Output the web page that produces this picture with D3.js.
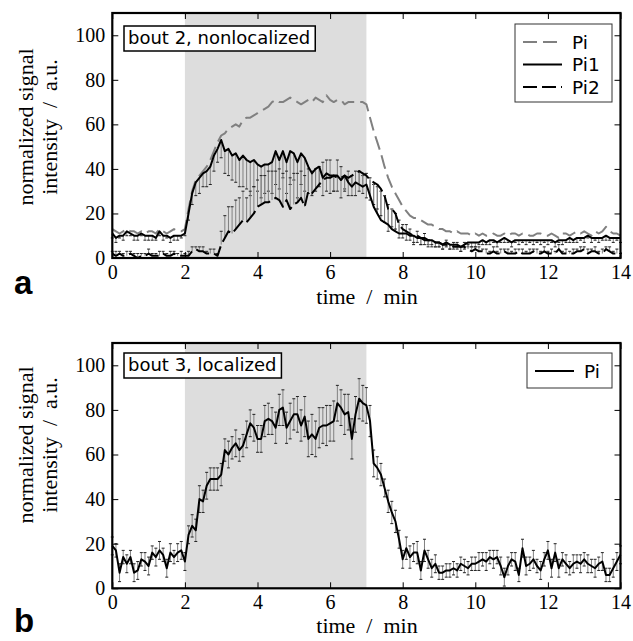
<!DOCTYPE html>
<html>
<head>
<meta charset="utf-8">
<script src="https://cdn.jsdelivr.net/npm/d3@7"></script>
<style>
  body { margin: 0; background: #fff; }
  svg { display: block; }
  .tick text { font-family: "Liberation Serif", serif; font-size: 20px; fill: #000; }
  .tick line { stroke: #000; stroke-width: 1; }
</style>
</head>
<body>
<div id="chart"></div>
<script>
// sampling: one value every 0.1 min, 0..14 min
var time = d3.range(141).map(function (i) { return i / 10; });
var xTicks = [0, 2, 4, 6, 8, 10, 12, 14];
var yTicks = [0, 20, 40, 60, 80, 100];
var stimulus = [2, 7];   // shaded interval, min

// panel a, bout 2, nonlocalized
var piA = [13,12,11,12,13,12,12,11,12,11, 12,12,11,13,12,11,12,13,12,12,
           13,22,30,35,37,39,41,44,48,52, 55,56,58,59,60,59,62,63,63,64,
           65,66,67,68,70,71,70,70,71,72, 71,70,69,70,71,70,72,71,70,73,
           71,70,71,71,69,70,70,70,70,70, 69,63,57,52,47,41,36,32,29,26,
           23,21,19,18,18,17,16,15,15,14, 13,13,12,12,11,12,11,11,11,10,
           11,10,11,10,10,11,10,10,11,10, 11,11,10,11,11,10,10,11,11,10,
           10,11,10,9,11,11,10,11,12,11, 12,11,10,12,11,12,14,12,11,11, 10];
var pi1A = [11,9,10,10,12,11,10,10,11,10, 10,10,9,12,10,10,9,10,10,10,
            11,20,29,34,36,38,39,41,46,49, 53,48,49,46,47,44,46,44,43,44,
            42,41,42,42,43,48,44,48,43,48, 47,43,47,45,41,38,40,41,36,38,
            37,37,37,35,37,34,32,34,33,32, 33,28,23,20,17,16,15,13,12,11,
            11,11,10,10,9,9,8,8,8,7, 7,6,7,6,6,6,5,6,7,7,
            7,7,8,7,8,8,7,8,9,8, 7,8,8,8,8,8,8,8,8,8,
            8,8,7,8,8,8,9,8,9,9, 9,10,9,9,9,9,10,9,9,9, 9];
var pi1AErr = [2,2,1,2,2,1,2,2,1,2, 2,2,1,2,2,1,2,2,2,1,
               1,3,5,6,7,6,7,8,7,6, 8,10,12,11,13,12,14,13,15,12,
               12,14,13,12,14,15,13,12,14,15, 12,16,14,15,12,10,10,9,8,8,
               8,7,7,6,6,5,5,5,6,5, 5,8,10,12,13,12,9,9,8,6,
               4,4,3,4,3,3,3,2,3,2, 2,2,2,2,2,2,2,2,2,2,
               2,1,2,1,2,1,2,1,2,1, 2,1,2,1,2,1,2,1,2,1,
               2,1,2,1,2,1,2,1,2,1, 2,1,2,1,2,1,2,1,2,1, 2];
var pi2A = [2,1,2,1,1,2,1,0,1,1, 2,1,1,1,2,1,1,2,1,1,
            1,1,3,4,3,3,2,2,2,1, 6,9,12,11,13,15,17,16,18,20,
            23,24,25,25,26,27,26,23,26,22, 24,25,27,23,30,29,31,33,35,36,
            36,37,36,36,37,36,37,38,39,38, 37,35,34,33,31,28,22,22,20,15,
            13,12,11,10,10,9,9,8,8,7, 7,6,6,6,5,5,5,5,4,3,
            4,3,3,2,2,3,2,2,3,2, 2,2,3,2,2,2,3,2,2,3,
            2,2,2,4,2,2,2,2,3,3, 4,2,3,3,2,2,4,3,2,2, 1];
var pi2AErr = [1,2,1,1,2,1,1,2,1,1, 2,1,1,2,1,1,2,1,1,2,
               1,2,2,1,2,2,1,2,2,1, 6,10,11,12,13,12,13,11,12,12,
               12,13,12,14,13,12,14,15,13,14, 14,13,12,14,10,10,9,8,8,8,
               8,7,8,9,7,8,9,10,9,9, 10,9,10,11,12,12,10,8,7,6,
               4,4,3,3,3,3,3,3,2,2, 2,2,2,2,2,2,2,2,2,2,
               1,2,1,2,1,2,1,2,1,2, 1,2,1,2,1,2,1,2,1,2,
               1,2,1,2,1,2,1,2,1,2, 1,2,1,2,1,2,1,2,1,2, 1];

// panel b, bout 3, localized
var piB = [19,17,7,14,11,14,7,8,13,12, 10,16,14,17,15,9,16,14,16,17,
           12,24,28,26,40,39,46,49,49,49, 51,62,60,63,65,62,64,69,74,72,
           67,67,75,76,75,72,80,81,72,75, 78,78,73,77,67,69,67,72,73,73,
           74,75,83,81,78,79,67,78,85,83, 82,75,56,54,51,45,39,34,30,22,
           13,18,14,16,16,8,17,13,9,11, 7,7,8,8,9,8,11,10,9,11,
           11,12,13,12,14,13,14,10,5,10, 13,12,6,18,10,11,13,10,8,13,
           17,9,16,9,13,11,9,11,12,11, 13,11,10,9,11,12,6,6,9,12, 15];
var piBErr = [4,3,4,3,4,3,4,4,3,4, 4,3,4,4,3,4,4,3,4,4,
              4,4,5,5,6,5,6,5,5,5, 5,5,6,5,6,5,5,6,6,6,
              6,6,7,7,6,7,7,8,7,8, 7,8,7,9,8,9,8,9,8,9,
              8,9,8,8,9,8,9,8,9,8, 8,7,6,5,5,4,5,5,5,4,
              4,5,5,4,5,4,5,4,4,4, 3,3,3,3,3,3,3,3,3,3,
              3,4,3,4,3,4,3,4,4,4, 3,4,3,4,4,3,4,3,4,3,
              4,4,4,4,3,4,3,4,3,4, 3,4,3,4,3,4,3,3,4,4, 4];

var W = 633, H = 641;
var svg = d3.select("#chart").append("svg").attr("width", W).attr("height", H);

// 画一个面板
function drawPanel(cfg) {
    var x = d3.scaleLinear().domain([0, 14]).range([112.3, 620.5]);
    var y = d3.scaleLinear().domain([0, 110]).range([cfg.bottom, cfg.top]);
    var g = svg.append("g");

    // 刺激区间
    g.append("rect")
        .attr("x", x(stimulus[0])).attr("y", y(110))
        .attr("width", x(stimulus[1]) - x(stimulus[0]))
        .attr("height", y(0) - y(110))
        .attr("fill", "#dddddd");

    // 误差棒
    cfg.series.forEach(function (s) {
        if (!s.err) return;
        var eg = g.append("g");
        s.values.forEach(function (v, i) {
            var lo, hi, e = s.err[i];
            if (s.other) {
                var dir = s.other[i] > v ? 1 : -1;
                lo = v; hi = v + dir * e;
            } else {
                lo = v - e; hi = v + e;
            }
            var cx = x(time[i]);
            eg.append("line").attr("x1", cx).attr("x2", cx)
                .attr("y1", y(lo)).attr("y2", y(hi))
                .attr("stroke", "#808080").attr("stroke-width", 1);
            var caps = s.other ? [hi] : [lo, hi];
            caps.forEach(function (c) {
                eg.append("line").attr("x1", cx - 1.5).attr("x2", cx + 1.5)
                    .attr("y1", y(c)).attr("y2", y(c))
                    .attr("stroke", "#222").attr("stroke-width", 1);
            });
        });
    });

    // 曲线
    var line = d3.line().x(function (d, i) { return x(time[i]); }).y(function (d) { return y(d); });
    cfg.series.forEach(function (s) {
        g.append("path").datum(s.values)
            .attr("d", line)
            .attr("fill", "none")
            .attr("stroke", s.color)
            .attr("stroke-width", 2)
            .attr("stroke-linejoin", "round")
            .attr("stroke-dasharray", s.dash || null);
    });

    // 坐标轴，刻度朝内
    g.append("g").attr("transform", "translate(0," + cfg.bottom + ")")
        .call(d3.axisBottom(x).tickValues(xTicks).tickSize(-6).tickPadding(7).tickFormat(d3.format("d")));
    g.append("g").attr("transform", "translate(112.3,0)")
        .call(d3.axisLeft(y).tickValues(yTicks).tickSize(-6).tickPadding(7));
    g.append("g").attr("transform", "translate(0," + cfg.top + ")")
        .call(d3.axisTop(x).tickValues(xTicks).tickSize(-6).tickFormat(""));
    g.append("g").attr("transform", "translate(620.5,0)")
        .call(d3.axisRight(y).tickValues(yTicks).tickSize(-6).tickFormat(""));
    g.selectAll(".domain").remove();

    g.append("rect")
        .attr("x", 112.3).attr("y", cfg.top)
        .attr("width", 620.5 - 112.3).attr("height", cfg.bottom - cfg.top)
        .attr("fill", "none").attr("stroke", "#000").attr("stroke-width", 2.2);

    // 轴标题
    g.append("text")
        .attr("x", 367).attr("y", cfg.bottom + cfg.xlabelDy)
        .attr("text-anchor", "middle")
        .style("font-family", "Liberation Serif, serif").style("font-size", "22px")
        .text("time\u2002/\u2002min");
    var yl = g.append("text")
        .attr("transform", "translate(0," + cfg.ylabelY + ") rotate(-90)")
        .attr("text-anchor", "middle")
        .style("font-family", "Liberation Serif, serif").style("font-size", "22px");
    yl.append("tspan").attr("x", 0).attr("y", 33).text("normalized signal");
    yl.append("tspan").attr("x", 0).attr("y", 57).text("intensity\u2002/\u2002a.u.");

    // 面板字母
    g.append("text")
        .attr("x", 14).attr("y", cfg.letterY)
        .style("font-family", "Liberation Sans, Arial, sans-serif")
        .style("font-size", "33px").style("font-weight", "bold")
        .text(cfg.letter);

    // 左上角说明
    var nb = g.append("g");
    var nt = nb.append("text")
        .attr("x", cfg.note.x + 4).attr("y", cfg.note.y + 18)
        .style("font-family", "DejaVu Sans, sans-serif").style("font-size", "18px")
        .text(cfg.note.text);
    var bb = nt.node().getBBox();
    nb.insert("rect", "text")
        .attr("x", cfg.note.x).attr("y", cfg.note.y)
        .attr("width", bb.width + 9).attr("height", 25)
        .attr("fill", "#fff").attr("stroke", "#000").attr("stroke-width", 1.5);

    // 图例
    var lg = g.append("g");
    lg.append("rect")
        .attr("x", cfg.legend.x).attr("y", cfg.legend.y)
        .attr("width", cfg.legend.w).attr("height", cfg.legend.h)
        .attr("fill", "#fff").attr("stroke", "#333").attr("stroke-width", 1);
    cfg.series.forEach(function (s, i) {
        var cy = cfg.legend.y + 18 + i * 22.5;
        lg.append("line")
            .attr("x1", cfg.legend.x + 8).attr("x2", cfg.legend.x + 47)
            .attr("y1", cy).attr("y2", cy)
            .attr("stroke", s.color).attr("stroke-width", 2)
            .attr("stroke-dasharray", s.dash || null);
        lg.append("text")
            .attr("x", cfg.legend.x + 57).attr("y", cy + 6.5)
            .style("font-family", "DejaVu Sans, sans-serif").style("font-size", "18.5px")
            .text(s.name);
    });
}

drawPanel({
    top: 13, bottom: 258, ylabelY: 127, xlabelDy: 46, letter: "a", letterY: 294,
    note: { x: 124, y: 26, text: "bout 2, nonlocalized" },
    legend: { x: 515, y: 24, w: 97, h: 78 },
    series: [
        { name: "Pi", values: piA, color: "#808080", dash: "14,6" },
        { name: "Pi1", values: pi1A, err: pi1AErr, other: pi2A, color: "#000" },
        { name: "Pi2", values: pi2A, err: pi2AErr, other: pi1A, color: "#000", dash: "14,5" }
    ]
});

drawPanel({
    top: 343, bottom: 588.3, ylabelY: 445, xlabelDy: 45, letter: "b", letterY: 632,
    note: { x: 124, y: 353, text: "bout 3, localized" },
    legend: { x: 527, y: 353, w: 85, h: 35 },
    series: [
        { name: "Pi", values: piB, err: piBErr, color: "#000" }
    ]
});
</script>
</body>
</html>
